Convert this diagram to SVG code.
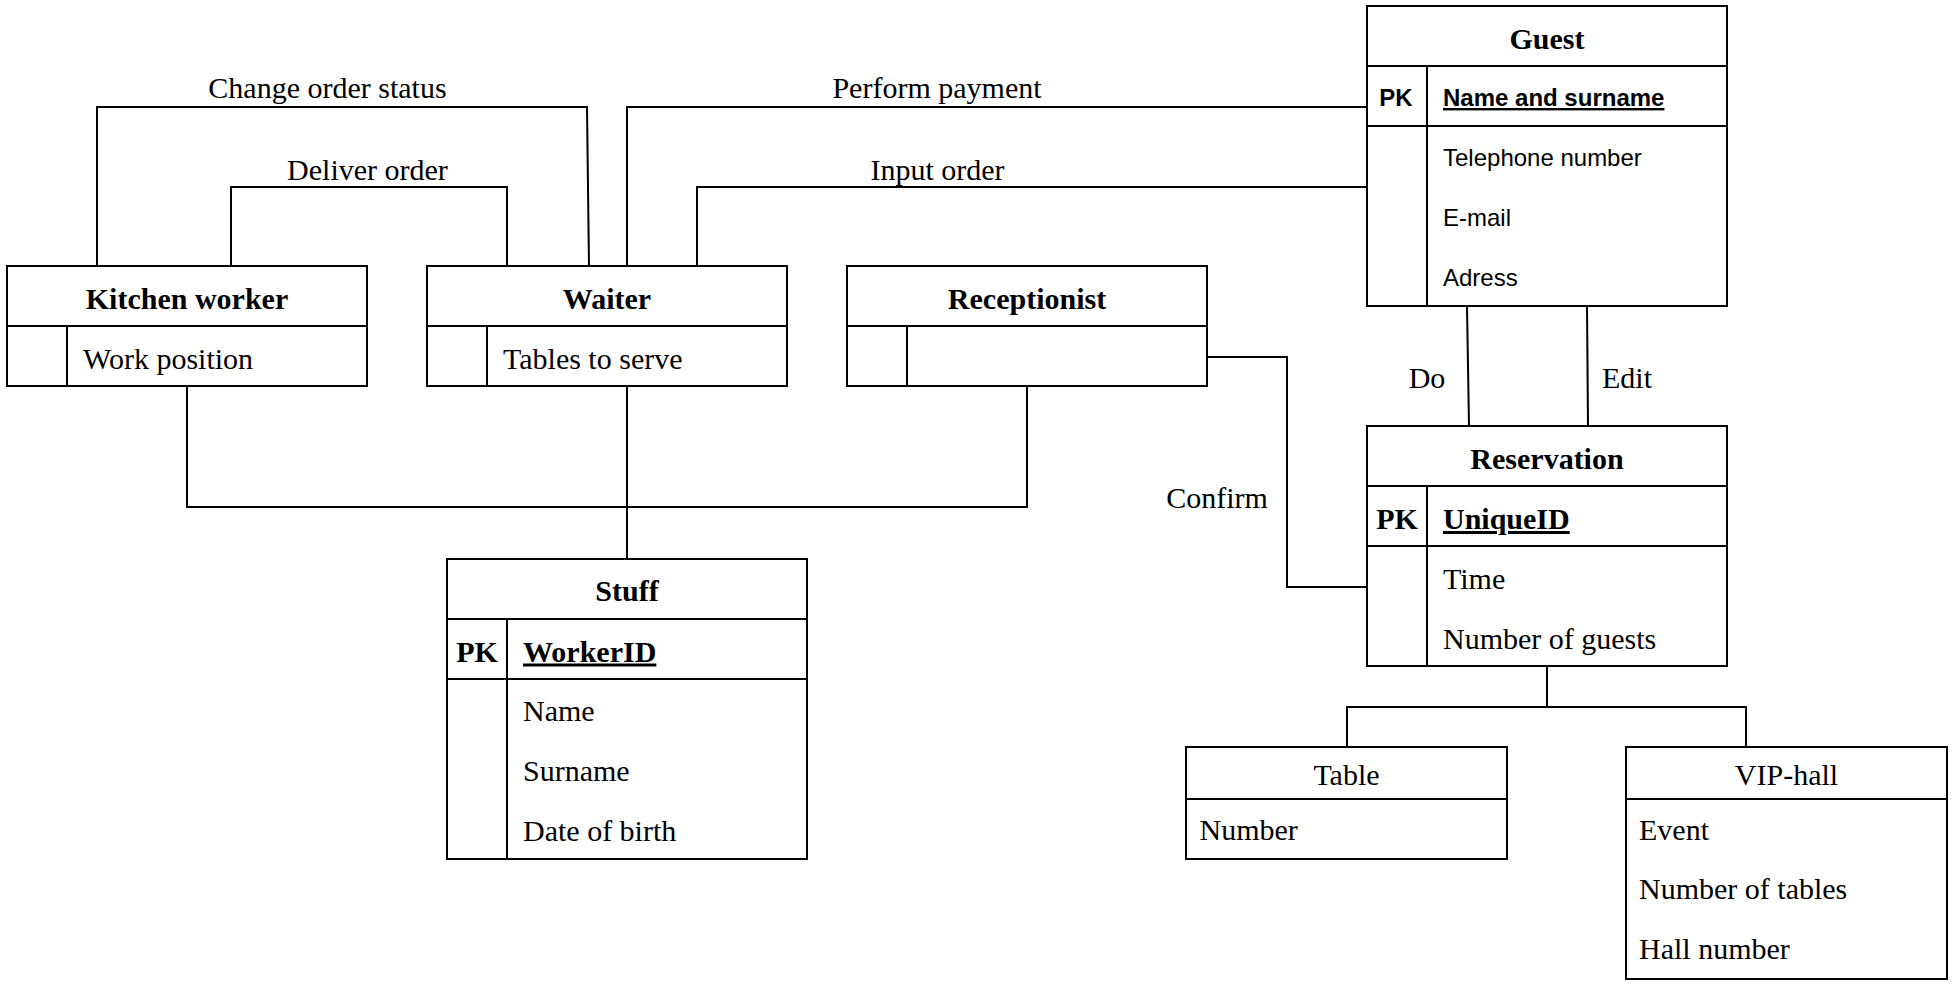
<svg xmlns="http://www.w3.org/2000/svg" width="1954" height="992" viewBox="0 0 1954 992">
<style>
.box{fill:#fff;stroke:#000;stroke-width:2}
.ln{fill:none;stroke:#000;stroke-width:2}
.hd{font-family:"Liberation Serif","Times New Roman",serif;font-size:30px;font-weight:bold;text-anchor:middle;fill:#000}
.hr{font-family:"Liberation Serif","Times New Roman",serif;font-size:30px;text-anchor:middle;fill:#000}
.at{font-family:"Liberation Serif","Times New Roman",serif;font-size:30px;fill:#000}
.atb{font-family:"Liberation Serif","Times New Roman",serif;font-size:30px;font-weight:bold;fill:#000;text-decoration:underline}
.pk{font-family:"Liberation Serif","Times New Roman",serif;font-size:30px;font-weight:bold;text-anchor:middle;fill:#000}
.sa{font-family:"Liberation Sans",Arial,sans-serif;font-size:24px;fill:#000}
.sab{font-family:"Liberation Sans",Arial,sans-serif;font-size:24px;font-weight:bold;fill:#000;text-decoration:underline}
.spk{font-family:"Liberation Sans",Arial,sans-serif;font-size:24px;font-weight:bold;text-anchor:middle;fill:#000}
.lb{font-family:"Liberation Serif","Times New Roman",serif;font-size:30px;text-anchor:middle;fill:#000}
</style>
<rect width="1954" height="992" fill="#fff"/>
<g id="connectors">
<polyline class="ln" points="97,266 97,107 587,107 589,266"/>
<polyline class="ln" points="231,266 231,187 507,187 507,266"/>
<polyline class="ln" points="627,266 627,107 1367,107"/>
<polyline class="ln" points="697,266 697,187 1367,187"/>
<polyline class="ln" points="187,386 187,507 1027,507 1027,386"/>
<line class="ln" x1="627" y1="386" x2="627" y2="559"/>
<polyline class="ln" points="1207,357 1287,357 1287,587 1367,587"/>
<line class="ln" x1="1467" y1="306" x2="1469" y2="426"/>
<line class="ln" x1="1587" y1="306" x2="1588" y2="426"/>
<polyline class="ln" points="1547,666 1547,707"/>
<polyline class="ln" points="1347,747 1347,707 1746,707 1746,747"/>
<text class="lb" x="327.5" y="98">Change order status</text>
<text class="lb" x="367.5" y="180">Deliver order</text>
<text class="lb" x="937" y="98">Perform payment</text>
<text class="lb" x="937.5" y="180">Input order</text>
<text class="lb" x="1217" y="508">Confirm</text>
<text class="lb" x="1427" y="388">Do</text>
<text class="lb" x="1627" y="388">Edit</text>
</g>
<g id="kitchen-worker">
<rect class="box" x="7" y="266" width="360" height="120"/>
<line class="ln" x1="7" y1="326" x2="367" y2="326"/>
<line class="ln" x1="67" y1="326" x2="67" y2="386"/>
<text class="hd" x="187" y="309">Kitchen worker</text>
<text class="at" x="83" y="368.5">Work position</text>
</g>
<g id="waiter">
<rect class="box" x="427" y="266" width="360" height="120"/>
<line class="ln" x1="427" y1="326" x2="787" y2="326"/>
<line class="ln" x1="487" y1="326" x2="487" y2="386"/>
<text class="hd" x="607" y="309">Waiter</text>
<text class="at" x="503" y="368.5">Tables to serve</text>
</g>
<g id="receptionist">
<rect class="box" x="847" y="266" width="360" height="120"/>
<line class="ln" x1="847" y1="326" x2="1207" y2="326"/>
<line class="ln" x1="907" y1="326" x2="907" y2="386"/>
<text class="hd" x="1027" y="309">Receptionist</text>
</g>
<g id="guest">
<rect class="box" x="1367" y="6" width="360" height="300"/>
<line class="ln" x1="1367" y1="66" x2="1727" y2="66"/>
<line class="ln" x1="1367" y1="126" x2="1727" y2="126"/>
<line class="ln" x1="1427" y1="66" x2="1427" y2="306"/>
<text class="hd" x="1547" y="49">Guest</text>
<text class="spk" x="1396" y="106">PK</text>
<text class="sab" x="1443" y="106">Name and surname</text>
<text class="sa" x="1443" y="166">Telephone number</text>
<text class="sa" x="1443" y="226">E-mail</text>
<text class="sa" x="1443" y="286">Adress</text>
</g>
<g id="reservation">
<rect class="box" x="1367" y="426" width="360" height="240"/>
<line class="ln" x1="1367" y1="486" x2="1727" y2="486"/>
<line class="ln" x1="1367" y1="546" x2="1727" y2="546"/>
<line class="ln" x1="1427" y1="486" x2="1427" y2="666"/>
<text class="hd" x="1547" y="469">Reservation</text>
<text class="pk" x="1397" y="529">PK</text>
<text class="atb" x="1443" y="529">UniqueID</text>
<text class="at" x="1443" y="589">Time</text>
<text class="at" x="1443" y="649">Number of guests</text>
</g>
<g id="stuff">
<rect class="box" x="447" y="559" width="360" height="300"/>
<line class="ln" x1="447" y1="619" x2="807" y2="619"/>
<line class="ln" x1="447" y1="679" x2="807" y2="679"/>
<line class="ln" x1="507" y1="619" x2="507" y2="859"/>
<text class="hd" x="627" y="601">Stuff</text>
<text class="pk" x="477" y="661.5">PK</text>
<text class="atb" x="523" y="661.5">WorkerID</text>
<text class="at" x="523" y="721">Name</text>
<text class="at" x="523" y="781">Surname</text>
<text class="at" x="523" y="841">Date of birth</text>
</g>
<g id="table">
<rect class="box" x="1186" y="747" width="321" height="112"/>
<line class="ln" x1="1186" y1="799" x2="1507" y2="799"/>
<text class="hr" x="1346.5" y="785">Table</text>
<text class="at" x="1199.5" y="839.5">Number</text>
</g>
<g id="vip-hall">
<rect class="box" x="1626" y="747" width="321" height="232"/>
<line class="ln" x1="1626" y1="799" x2="1947" y2="799"/>
<text class="hr" x="1786.5" y="785">VIP-hall</text>
<text class="at" x="1639" y="839.5">Event</text>
<text class="at" x="1639" y="899">Number of tables</text>
<text class="at" x="1639" y="958.5">Hall number</text>
</g>
</svg>
